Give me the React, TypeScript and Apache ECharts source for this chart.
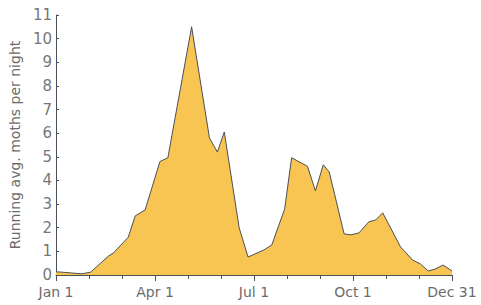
import React, { useEffect, useRef } from "react";
import * as echarts from "echarts";

// x in months since Jan 1 (0..12), y = running average moths per night
const monthPos = [0, 0.09, 0.78, 1.05, 1.59, 1.74, 2.19, 2.4, 2.7, 3.15, 3.39, 4.11, 4.65, 4.89, 5.1, 5.55, 5.82, 6.3, 6.54, 6.93, 7.14, 7.62, 7.86, 8.1, 8.28, 8.73, 8.94, 9.18, 9.48, 9.69, 9.9, 10.44, 10.8, 11.04, 11.28, 11.49, 11.73, 12.0];
const mothValues = [0.13, 0.13, 0.05, 0.12, 0.8, 0.93, 1.6, 2.5, 2.75, 4.8, 4.96, 10.5, 5.8, 5.2, 6.05, 2.0, 0.76, 1.06, 1.27, 2.8, 4.96, 4.6, 3.56, 4.66, 4.36, 1.74, 1.7, 1.78, 2.25, 2.33, 2.63, 1.19, 0.64, 0.47, 0.17, 0.25, 0.42, 0.17];
const xTickLabels: Record<number, string> = { 0: "Jan 1", 3: "Apr 1", 6: "Jul 1", 9: "Oct 1", 12: "Dec 31" };
const yTickValues = [0, 1, 2, 3, 4, 5, 6, 7, 8, 9, 10, 11];

export default function App() {
  const ref = useRef<HTMLDivElement>(null);
  useEffect(() => {
    if (!ref.current) return;
    const chart = echarts.init(ref.current, undefined, { renderer: "svg" });
    const font = "DejaVu Sans";
    chart.setOption({
      animation: false,
      backgroundColor: "#ffffff",
      grid: { left: 52, right: 29, top: 15, bottom: 30 },
      xAxis: {
        type: "value",
        min: 0,
        max: 12,
        interval: 3,
        axisLine: { lineStyle: { color: "#4a4f58", width: 1 } },
        axisTick: { show: true, length: 6, lineStyle: { color: "#4a4f58" } },
        minorTick: { show: true, splitNumber: 3, length: 4, lineStyle: { color: "#4a4f58" } },
        splitLine: { show: false },
        axisLabel: {
          color: "#6b6b6b",
          fontFamily: font,
          fontSize: 14,
          margin: 10,
          formatter: (v: number) => xTickLabels[v] ?? "",
        },
      },
      yAxis: {
        type: "value",
        min: yTickValues[0],
        max: yTickValues[yTickValues.length - 1],
        interval: 1,
        name: "Running avg. moths per night",
        nameLocation: "middle",
        nameGap: 29,
        nameTextStyle: { color: "#6b6b6b", fontFamily: font, fontSize: 14 },
        axisLine: { show: true, lineStyle: { color: "#4a4f58", width: 1 } },
        axisTick: { show: true, inside: true, length: 3, lineStyle: { color: "#4a4f58" } },
        splitLine: { show: false },
        axisLabel: { color: "#777", fontFamily: font, fontSize: 15, margin: 4 },
      },
      series: [
        {
          type: "line",
          data: monthPos.map((m, i) => [m, mothValues[i]]),
          showSymbol: false,
          lineStyle: { color: "#4a4f58", width: 1 },
          areaStyle: { color: "#F8C452", opacity: 1 },
          z: 1,
        },
      ],
    });
    return () => chart.dispose();
  }, []);
  return <div ref={ref} style={{ width: 481, height: 305, position: "absolute", left: 0, top: 0 }} />;
}
